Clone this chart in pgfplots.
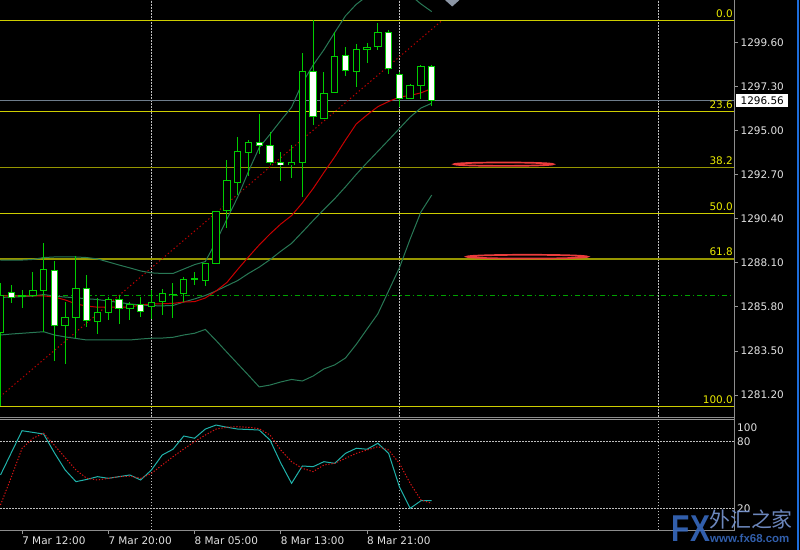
\documentclass[border=0pt]{standalone}
\usepackage{pgfplots}
\pgfplotsset{compat=1.18}
\usepackage{pgfplotstable}
\usepackage{fontspec}
\setmainfont{DejaVu Sans}
\newfontfamily\wmfont{Liberation Sans}
\newfontfamily\cjk{Noto Sans CJK SC}

\definecolor{candle}{RGB}{0,205,0}
\definecolor{bandc}{RGB}{40,120,85}
\definecolor{mac}{RGB}{200,0,0}
\definecolor{trendc}{RGB}{190,0,0}
\definecolor{fibc}{RGB}{205,205,0}
\definecolor{fibd}{RGB}{150,150,0}
\definecolor{fibtxt}{RGB}{235,235,0}
\definecolor{bidc}{RGB}{110,125,140}
\definecolor{ddc}{RGB}{0,160,0}
\definecolor{gridc}{RGB}{190,190,190}
\definecolor{labc}{RGB}{225,225,225}
\definecolor{tickc}{RGB}{150,150,150}
\definecolor{bordc}{RGB}{140,140,140}
\definecolor{stochc}{RGB}{32,178,170}
\definecolor{sigc}{RGB}{215,20,20}
\definecolor{ellc}{RGB}{235,60,60}
\definecolor{wm}{RGB}{55,105,190}
\definecolor{wmlight}{RGB}{120,150,210}
\definecolor{winblue}{RGB}{30,110,220}
\definecolor{trig}{RGB}{140,150,165}

\pgfplotstableread{
i o h l c
0 1284.47 1287.03 1280.61 1286.42
1 1286.54 1286.94 1286.00 1286.32
2 1286.34 1286.68 1285.74 1286.37
3 1286.38 1287.62 1286.33 1286.65
4 1286.64 1289.13 1284.47 1287.76
5 1287.71 1288.21 1282.98 1284.83
6 1284.84 1286.08 1282.85 1285.27
7 1285.25 1288.45 1284.16 1286.77
8 1286.77 1287.46 1284.73 1285.10
9 1285.05 1286.25 1284.37 1285.50
10 1285.51 1286.33 1285.11 1286.19
11 1286.18 1286.42 1284.90 1285.72
12 1285.72 1286.05 1285.11 1285.95
13 1285.95 1286.29 1285.25 1285.56
14 1285.84 1286.68 1285.20 1286.04
15 1286.07 1286.72 1285.37 1286.51
16 1286.45 1287.07 1285.24 1286.47
17 1286.51 1287.36 1286.09 1287.24
18 1287.25 1287.63 1286.94 1287.28
19 1287.20 1288.10 1286.89 1288.07
20 1288.07 1290.83 1288.05 1290.78
21 1290.82 1293.46 1289.90 1292.38
22 1292.29 1294.68 1291.63 1293.93
23 1293.88 1294.50 1292.64 1294.40
24 1294.38 1295.86 1293.77 1294.21
25 1294.21 1294.94 1293.20 1293.32
26 1293.33 1293.89 1292.36 1293.22
27 1293.23 1294.24 1292.51 1293.34
28 1293.33 1299.08 1291.55 1298.09
29 1298.09 1300.75 1295.31 1295.72
30 1295.64 1298.07 1295.61 1296.94
31 1296.99 1300.15 1296.98 1298.85
32 1298.89 1299.37 1297.85 1298.10
33 1298.10 1299.50 1297.28 1299.24
34 1299.24 1299.59 1298.52 1299.34
35 1299.37 1300.64 1299.20 1300.12
36 1300.12 1300.24 1297.98 1298.24
37 1297.93 1298.07 1296.24 1296.68
38 1296.68 1297.46 1296.64 1297.34
39 1297.34 1298.45 1296.63 1298.33
40 1298.33 1298.42 1296.28 1296.56
}\candles

\pgfplotstableread{
i up mid lo ma
0 1288.24 1286.29 1284.33 1286.37
1 1288.24 1286.31 1284.38 1286.37
2 1288.24 1286.33 1284.42 1286.37
3 1288.27 1286.36 1284.46 1286.37
4 1288.37 1286.44 1284.50 1286.37
5 1288.40 1286.36 1284.33 1286.31
6 1288.40 1286.31 1284.23 1286.16
7 1288.40 1286.27 1284.15 1285.95
8 1288.37 1286.22 1284.07 1285.84
9 1288.30 1286.18 1284.07 1285.78
10 1288.14 1286.10 1284.07 1285.78
11 1287.98 1286.03 1284.07 1285.78
12 1287.83 1285.95 1284.07 1285.79
13 1287.67 1285.90 1284.12 1285.90
14 1287.57 1285.86 1284.16 1285.95
15 1287.54 1285.85 1284.17 1285.96
16 1287.54 1285.87 1284.21 1285.98
17 1287.77 1286.05 1284.33 1286.05
18 1288.00 1286.21 1284.42 1286.07
19 1288.16 1286.39 1284.62 1286.26
20 1289.21 1286.63 1284.04 1286.63
21 1290.37 1286.90 1283.43 1287.07
22 1291.52 1287.17 1282.83 1287.75
23 1292.86 1287.54 1282.23 1288.40
24 1294.11 1287.87 1281.62 1289.03
25 1294.80 1288.26 1281.72 1289.60
26 1295.52 1288.70 1281.88 1290.12
27 1296.21 1289.11 1282.01 1290.56
28 1297.48 1289.70 1281.93 1291.22
29 1298.41 1290.30 1282.19 1291.97
30 1299.21 1290.88 1282.56 1292.81
31 1300.11 1291.44 1282.77 1293.62
32 1300.98 1292.06 1283.13 1294.50
33 1301.58 1292.71 1283.84 1295.34
34 1302.01 1293.32 1284.64 1295.81
35 1302.40 1293.91 1285.43 1296.24
36 1302.38 1294.50 1286.63 1296.51
37 1302.37 1295.10 1287.83 1296.74
38 1302.07 1295.70 1289.34 1296.83
39 1301.60 1296.17 1290.75 1296.96
40 1301.20 1296.42 1291.63 1297.19
}\ind

\pgfplotstableread{
i k d
0 50 23
1 70 48
2 89.9 74
3 88.4 83
4 86.9 87.6
5 70 76.8
6 54.5 65.6
7 44 54.5
8 46 47
9 48.5 45.5
10 47 47
11 48.5 48.5
12 50 49
13 45.5 47
14 54.5 51.5
15 68 59
16 73.2 66.5
17 85.1 73.4
18 83.1 80
19 91.4 86
20 95 91.4
21 93 93
22 91.4 93.5
23 91 93
24 90.5 91.7
25 81.5 86
26 60.7 72.5
27 42.5 62
28 58.1 56
29 57.5 53
30 62 59
31 60.5 60.5
32 69.5 65
33 74.1 69.5
34 73.2 72.5
35 78.6 75.5
36 69.5 72.5
37 39.5 60.5
38 20 42.5
39 26.8 27.5
40 26.8 24.5
}\stoch

\newcommand{\lblfont}{\fontsize{10.5}{12}\selectfont}

\begin{document}
\begin{tikzpicture}[x=1bp,y=1bp]
\useasboundingbox (0,0) rectangle (800,550);
\fill[black] (0,0) rectangle (800,550);

% ---------- main price panel ----------
\begin{axis}[
  at={(0bp,133bp)}, anchor=south west, scale only axis,
  width=734bp, height=417bp,
  xmin=-0.046, xmax=68.04, ymin=1280.052, ymax=1301.807,
  axis line style={draw=none},
  xtick={14,37,61}, xticklabels={}, xmajorgrids, xtick style={draw=none},
  grid style={gridc, dash pattern=on 1.5bp off 1.5bp, line width=0.8bp},
  ytick={1281.2,1283.5,1285.8,1288.1,1290.4,1292.7,1295.0,1297.3,1299.6},
  ytick pos=right, yticklabel pos=right,
  tick align=outside, major tick length=4bp,
  ytick style={draw=tickc, line width=0.8bp},
  tick label style={font=\lblfont, text=labc},
  yticklabel style={anchor=west, inner xsep=4.4bp, inner ysep=2.3bp, xshift=-2bp},
  /pgf/number format/fixed, /pgf/number format/fixed zerofill,
  /pgf/number format/precision=2, /pgf/number format/1000 sep={},
  /pgf/number format/assume math mode=true,
  extra y ticks={1296.56}, extra y tick labels={1296.56},
  extra y tick style={yticklabel style={fill=white, text=black}, ytick style={draw=none}},
]
% Fibonacci levels
\addplot[fibc, line width=1bp] coordinates {(-1,1300.748) (70,1300.748)};
\addplot[fibc, line width=1bp] coordinates {(-1,1295.995) (70,1295.995)};
\addplot[fibd, line width=1.5bp] coordinates {(-1,1293.055) (70,1293.055)};
\addplot[fibc, line width=1bp] coordinates {(-1,1290.679) (70,1290.679)};
\addplot[fibd, line width=1.5bp] coordinates {(-1,1288.303) (70,1288.303)};
\addplot[fibc, line width=1bp] coordinates {(-1,1280.610) (70,1280.610)};
% bid line and dash-dot level
\addplot[bidc, line width=1bp] coordinates {(-1,1296.56) (70,1296.56)};
\addplot[ddc, line width=1bp, dash pattern=on 5bp off 3bp on 1.2bp off 3bp] coordinates {(-1,1286.40) (70,1286.40)};
% trend line
\addplot[trendc, line width=1bp, dash pattern=on 1.3bp off 2.5bp] coordinates {(-0.046,1281.11) (40.86,1300.69)};
% Bollinger bands and MA
\addplot[bandc, line width=1bp] table[x=i, y=up] {\ind};
\addplot[bandc, line width=1bp] table[x=i, y=mid] {\ind};
\addplot[bandc, line width=1bp] table[x=i, y=lo] {\ind};
\addplot[mac, line width=1bp] table[x=i, y=ma] {\ind};
% candles: wicks
\addplot[draw=none, mark=none, error bars/.cd, y dir=both, y explicit, error mark=none,
  error bar style={draw=candle, line width=1bp}]
  table[x=i, y expr={(\thisrow{h}+\thisrow{l})/2}, y error expr={(\thisrow{h}-\thisrow{l})/2}] {\candles};
% bodies (outline)
\addplot[draw=none, mark=none, error bars/.cd, y dir=both, y explicit, error mark=none,
  error bar style={draw=candle, line width=7.4bp}]
  table[x=i, y expr={(\thisrow{o}+\thisrow{c})/2}, y error expr={abs(\thisrow{o}-\thisrow{c})/2+0.026}] {\candles};
% bull bodies (black inside)
\addplot[draw=none, mark=none, error bars/.cd, y dir=both, y explicit, error mark=none,
  error bar style={draw=black, line width=5.4bp}]
  table[x=i, y expr={\thisrow{c}>\thisrow{o} ? (\thisrow{o}+\thisrow{c})/2 : nan}, y error expr={max(abs(\thisrow{o}-\thisrow{c})/2-0.026,0)}] {\candles};
% bear bodies (white inside)
\addplot[draw=none, mark=none, error bars/.cd, y dir=both, y explicit, error mark=none,
  error bar style={draw=white, line width=5.4bp}]
  table[x=i, y expr={\thisrow{c}<\thisrow{o} ? (\thisrow{o}+\thisrow{c})/2 : nan}, y error expr={max(abs(\thisrow{o}-\thisrow{c})/2-0.026,0)}] {\candles};
% fib labels
\node[text=fibtxt, font=\lblfont, anchor=base east, inner sep=0pt, yshift=3bp] at (axis cs:67.95,1300.748) {0.0};
\node[text=fibtxt, font=\lblfont, anchor=base east, inner sep=0pt, yshift=3bp] at (axis cs:67.95,1295.995) {23.6};
\node[text=fibtxt, font=\lblfont, anchor=base east, inner sep=0pt, yshift=3bp] at (axis cs:67.95,1293.055) {38.2};
\node[text=fibtxt, font=\lblfont, anchor=base east, inner sep=0pt, yshift=3bp] at (axis cs:67.95,1290.679) {50.0};
\node[text=fibtxt, font=\lblfont, anchor=base east, inner sep=0pt, yshift=3bp] at (axis cs:67.95,1288.303) {61.8};
\node[text=fibtxt, font=\lblfont, anchor=base east, inner sep=0pt, yshift=3bp] at (axis cs:67.95,1280.610) {100.0};
\end{axis}

% ---------- stochastic panel ----------
\begin{axis}[
  at={(0bp,19.5bp)}, anchor=south west, scale only axis,
  width=734bp, height=111bp,
  xmin=-0.046, xmax=68.04, ymin=0, ymax=100,
  axis line style={draw=none},
  xtick={-6,2,10,18,26,34},
  xticklabels={7 Mar 04:00,7 Mar 12:00,7 Mar 20:00,8 Mar 05:00,8 Mar 13:00,8 Mar 21:00},
  xtick pos=bottom, tick align=outside, major tick length=4bp,
  xtick style={draw=tickc, line width=0.8bp},
  tick label style={font=\lblfont, text=labc},
  xticklabel style={anchor=north west, inner sep=0pt, yshift=-2.5bp},
  extra x ticks={14,37,61}, extra x tick labels={},
  extra x tick style={xmajorgrids=true, xtick style={draw=none}},
  ytick={20,80}, ymajorgrids, ytick pos=right, yticklabel pos=right,
  ytick style={draw=none},
  yticklabel style={anchor=west, inner sep=0pt, xshift=-1bp},
  /pgf/number format/assume math mode=true,
  grid style={gridc, dash pattern=on 1.5bp off 1.5bp, line width=0.8bp},
]
\addplot[stochc, line width=1bp] table[x=i, y=k] {\stoch};
\addplot[sigc, line width=1bp, dash pattern=on 1.3bp off 1.7bp] table[x=i, y=d] {\stoch};
\end{axis}

% ---------- window decorations ----------
\node[text=labc, font=\lblfont, anchor=west, inner sep=0pt] at (737,122.7) {100};
\draw[bordc, line width=0.8bp] (0,132.4) -- (734.5,132.4);
\draw[tickc, line width=1bp] (0,130.8) -- (734.5,130.8);
\draw[bordc, line width=1bp] (734.5,18.8) -- (734.5,550);
\draw[bordc, line width=1bp] (0,19.3) -- (734.5,19.3);
\draw[winblue, line width=2bp] (797.5,0) -- (797.5,550);
\fill[trig] (445,550) -- (459.5,550) -- (452.2,543.5) -- cycle;

% drawn ellipses
\draw[ellc, line width=1.7bp] (503.7,385.8) ellipse [x radius=49.6bp, y radius=1.7bp];
\draw[ellc, line width=1.7bp] (527.2,293.3) ellipse [x radius=60.4bp, y radius=1.9bp];

% watermark
\node[anchor=base west, inner sep=0pt, text=wm, xscale=0.8, opacity=0.9,
  font=\wmfont\bfseries\fontsize{37.5}{38}\selectfont] at (671.7,8.3) {FX};
\node[anchor=base west, inner sep=0pt, text=wmlight, opacity=0.9,
  font=\cjk\fontsize{21}{22}\selectfont] at (709,22) {外汇之家};
\node[anchor=base west, inner sep=0pt, text=wm, opacity=0.9,
  font=\wmfont\bfseries\fontsize{11.5}{12}\selectfont] at (710,7.5) {www.fx68.com};
\end{tikzpicture}
\end{document}
